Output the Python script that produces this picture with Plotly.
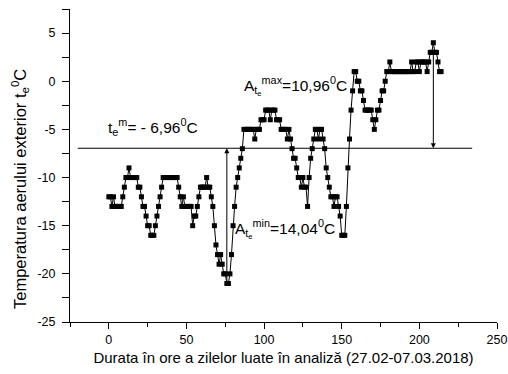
import plotly.graph_objects as go

# Outside air temperature, hourly readings (°C)
temperature = [
    -12, -12, -13, -12, -13, -13, -13, -13, -13, -12,
    -11, -10, -10, -9, -10, -10, -10, -10, -10, -11,
    -11, -12, -13, -13, -14, -15, -15, -16, -16, -16,
    -15, -14, -13, -12, -11, -10, -10, -10, -10, -10,
    -10, -10, -10, -10, -10, -11, -12, -13, -12, -13,
    -13, -13, -13, -13, -15, -14, -14, -13, -12, -11,
    -11, -11, -11, -10, -11, -11, -12, -13, -15, -17,
    -18, -19, -18, -19, -20, -20, -21, -21, -20, -18,
    -15, -13, -11, -10, -9, -8, -7, -5, -5, -5,
    -5, -5, -5, -5, -6, -5, -5, -5, -4, -4,
    -4, -3, -3, -3, -4, -3, -3, -3, -4, -4,
    -4, -5, -5, -5, -5, -6, -5, -6, -7, -8,
    -8, -9, -10, -10, -11, -10, -11, -11, -13, -10,
    -8, -7, -6, -5, -5, -6, -5, -5, -6, -7,
    -9, -10, -11, -12, -12, -13, -12, -12, -13, -14,
    -16, -16, -16, -13, -9, -6, -3, -1, 1, 1,
    0, 0, -1, -1, -2, -3, -3, -3, -3, -3,
    -4, -5, -4, -3, -3, -2, -1, -1, 0, 1,
    1, 2, 1, 1, 1, 1, 1, 1, 1, 1,
    1, 1, 1, 1, 1, 2, 1, 1, 2, 2,
    1, 2, 2, 2, 2, 1, 2, 3, 3, 4,
    3, 3, 2, 1, 1,
]
hours = list(range(len(temperature)))

mean_temp = -6.96
mean_line_x = [-20, 234]
t_min, t_min_hour = -21, 76
t_max, t_max_hour = 4, 209

x_ticks = [0, 50, 100, 150, 200, 250]
y_ticks = [-25, -20, -15, -10, -5, 0, 5]

FONT = "Liberation Sans, Arial, sans-serif"

fig = go.Figure()
fig.add_trace(go.Scatter(
    x=mean_line_x, y=[mean_temp, mean_temp], mode="lines",
    line=dict(color="black", width=1), showlegend=False, hoverinfo="skip"))
fig.add_trace(go.Scatter(
    x=hours, y=temperature, mode="lines+markers",
    line=dict(color="black", width=1),
    marker=dict(symbol="square", size=5, color="black"),
    showlegend=False))

# arrows for amplitudes
fig.add_annotation(x=t_min_hour, y=mean_temp, ax=t_min_hour, ay=t_min,
                   xref="x", yref="y", axref="x", ayref="y", text="",
                   showarrow=True, arrowhead=2, arrowsize=1, arrowwidth=1,
                   arrowcolor="black")
fig.add_annotation(x=t_max_hour, y=mean_temp, ax=t_max_hour, ay=t_max - 1,
                   xref="x", yref="y", axref="x", ayref="y", text="",
                   showarrow=True, arrowhead=2, arrowsize=1, arrowwidth=1,
                   arrowcolor="black")

fig.add_annotation(x=-2, y=-4.7, xref="x", yref="y", xanchor="left",
                   text="t<sub>e</sub><sup>m</sup>= - 6,96<sup>0</sup>C",
                   showarrow=False, font=dict(family=FONT, size=15.5, color="black"))
fig.add_annotation(x=86, y=-0.5, xref="x", yref="y", xanchor="left",
                   text="A<sub>t<sub>e</sub></sub><sup>max</sup>=10,96<sup>0</sup>C",
                   showarrow=False, font=dict(family=FONT, size=15.5, color="black"))
fig.add_annotation(x=80, y=-15.3, xref="x", yref="y", xanchor="left",
                   text="A<sub>t<sub>e</sub></sub><sup>min</sup>=14,04<sup>0</sup>C",
                   showarrow=False, font=dict(family=FONT, size=15.5, color="black"))

# y-axis title (placed as rotated text, slightly below the axis centre as in the reference)
fig.add_annotation(x=-50 / 427, y=(322 - 189) / 313, xref="paper", yref="paper",
                   xanchor="center", yanchor="middle", textangle=-90,
                   text="Temperatura aerului exterior t<sub>e</sub><sup>0</sup>C",
                   showarrow=False, font=dict(family=FONT, size=16.5, color="black"))

fig.update_layout(
    width=508, height=374,
    margin=dict(l=70, r=11, t=9, b=52),
    paper_bgcolor="white", plot_bgcolor="white",
    font=dict(family=FONT, size=12.5, color="black"),
    xaxis=dict(
        range=[-25, 250], tickvals=x_ticks, ticktext=[str(v) for v in x_ticks],
        showline=True, linecolor="black", linewidth=1, showgrid=False,
        zeroline=False, ticks="outside", ticklen=6, tickcolor="black",
        automargin=False,
        minor=dict(dtick=25, tick0=0, ticks="outside", ticklen=4, tickcolor="black"),
        title=dict(text="Durata în ore a zilelor luate în analiză (27.02-07.03.2018)",
                   font=dict(size=15), standoff=6),
    ),
    yaxis=dict(
        range=[-25, 7.5], tickvals=y_ticks, ticktext=[str(v) for v in y_ticks],
        showline=True, linecolor="black", linewidth=1, showgrid=False,
        zeroline=False, ticks="outside", ticklen=7, tickcolor="black",
        ticklabelstandoff=4, automargin=False,
        minor=dict(dtick=2.5, tick0=0, ticks="outside", ticklen=7, tickcolor="black"),
    ),
)

fig.write_html("out.html", config={"displayModeBar": False},
               post_script="document.body.style.margin='0';")
